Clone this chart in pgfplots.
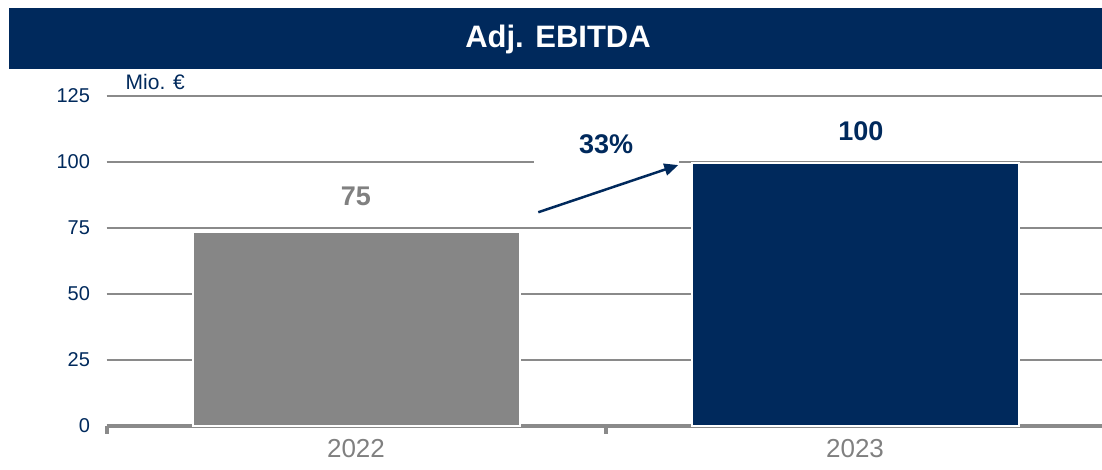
\documentclass[border=0pt]{standalone}
\usepackage{pgfplots}
\pgfplotsset{compat=1.18}
\usepackage{fontspec}
\setmainfont{Liberation Sans}
\usetikzlibrary{arrows.meta}
\definecolor{navy}{HTML}{00295C}
\definecolor{bargray}{HTML}{868686}
\definecolor{gridgray}{HTML}{8A8A8A}
\definecolor{labgray}{HTML}{808080}
\begin{document}
\begin{tikzpicture}[x=1pt,y=1pt]
\useasboundingbox (0,0) rectangle (1102,469);
\fill[navy] (9,400) rectangle (1102,461);
\node[text=white,font=\fontsize{31}{37}\selectfont\bfseries] at (558,430) {Adj. EBITDA};
\begin{axis}[
  at={(106.5pt,43.5pt)}, anchor=south west,
  scale only axis, width=998pt, height=329.5pt,
  xmin=-0.5, xmax=1.5, ymin=0, ymax=125,
  clip=false,
  axis x line*=bottom, axis y line*=left,
  y axis line style={draw=none},
  x axis line style={draw=gridgray, line width=4pt},
  ytick={0,25,...,125},
  ytick style={draw=none},
  xtick={0,1}, xticklabels={2022,2023},
  xtick style={draw=none},
  extra x ticks={-0.5,0.5},
  extra x tick labels={},
  extra x tick style={xtick style={draw=gridgray, line width=4pt}, tick align=outside, major tick length=8pt},
  ymajorgrids, grid style={draw=gridgray, line width=1.8pt},
  /pgf/number format/assume math mode=true,
  yticklabel style={text=navy, font=\fontsize{20}{24}\selectfont, xshift=-13pt},
  xticklabel style={text=labgray, font=\fontsize{26}{30}\selectfont, yshift=-10pt},
]
\addplot[ybar, bar shift=0pt, bar width=327pt, fill=bargray, draw=white, line width=2pt] coordinates {(0,73.5)};
\addplot[ybar, bar shift=0pt, bar width=327pt, fill=navy, draw=white, line width=2pt] coordinates {(1,99.7)};
\node[text=labgray, font=\fontsize{27}{32}\selectfont\bfseries] at (axis cs:0,87.1) {75};
\node[text=navy, font=\fontsize{27}{32}\selectfont\bfseries] at (axis cs:1.0116,111.5) {100};
\node[fill=white, minimum width=145pt, minimum height=40pt, inner sep=0pt, text=navy, font=\fontsize{27}{32}\selectfont\bfseries] at (axis cs:0.5014,106.8) {33\%};
\draw[navy, line width=2.5pt, -{Triangle[length=14pt,width=12pt]}] (axis cs:0.3653,80.9) -- (axis cs:0.6459,98.8);
\node[text=navy, font=\fontsize{21}{25}\selectfont] at (axis cs:-0.4022,130.3) {Mio. €};
\end{axis}
\end{tikzpicture}
\end{document}
